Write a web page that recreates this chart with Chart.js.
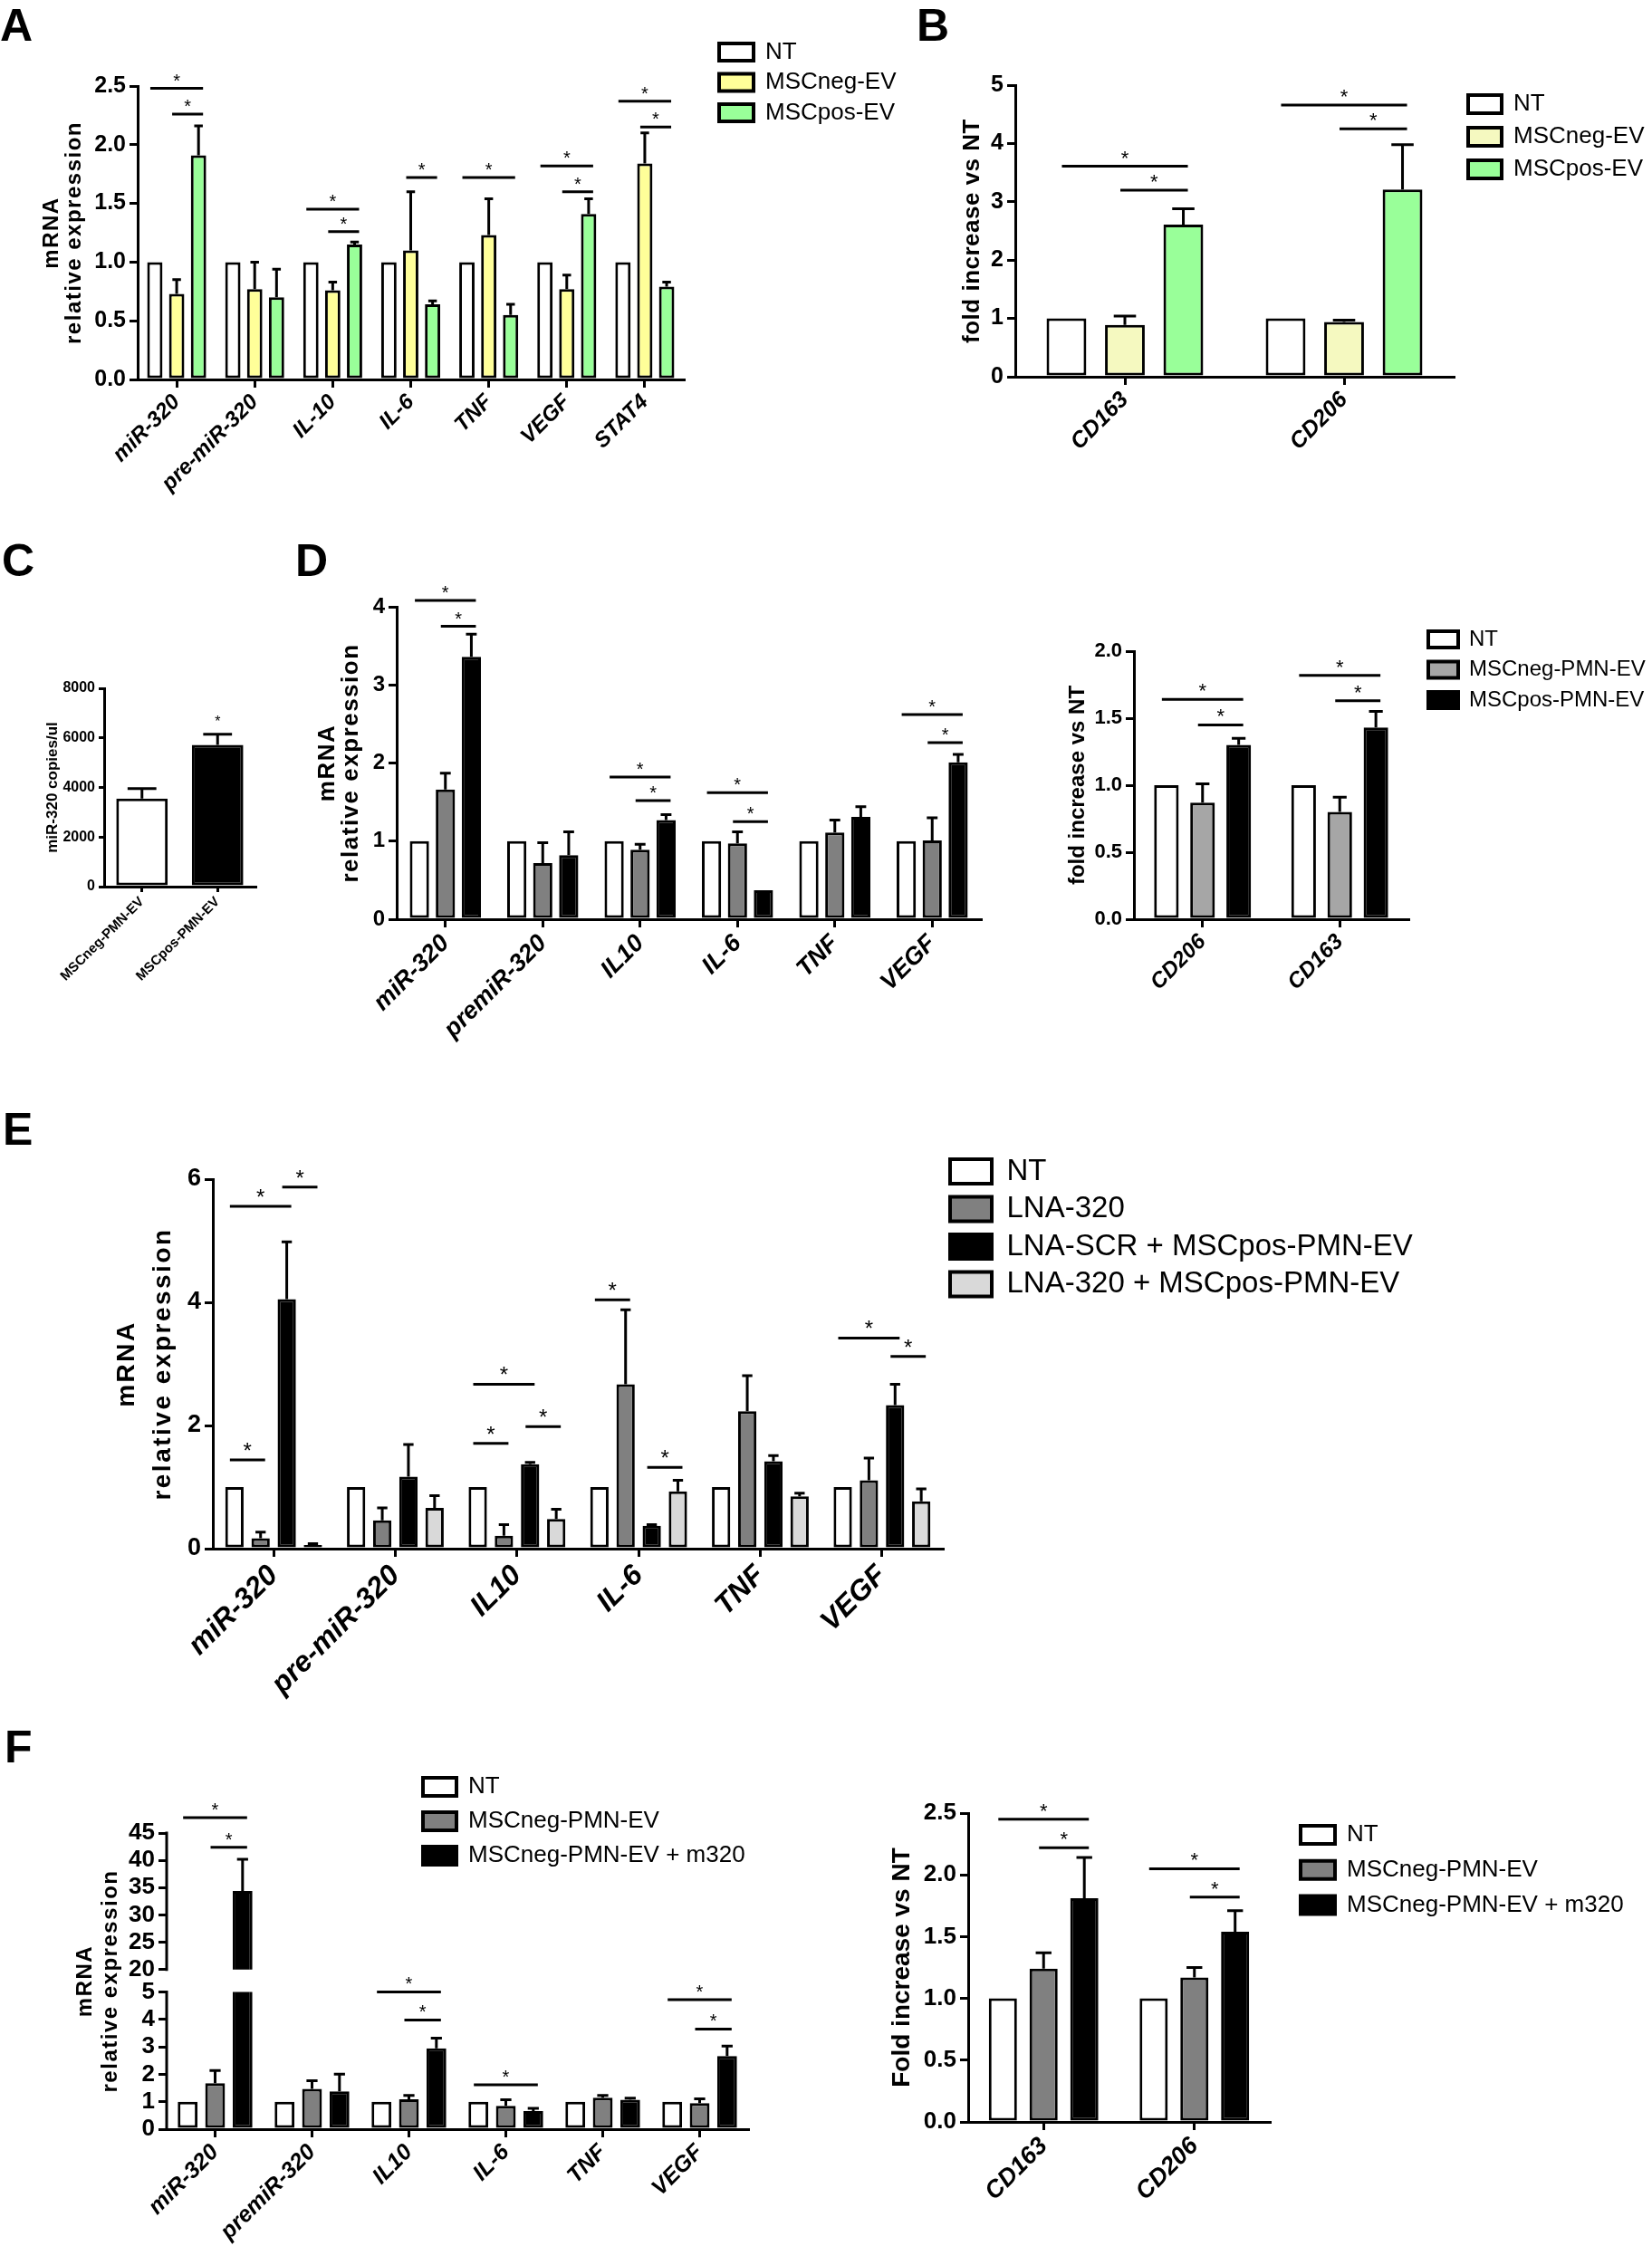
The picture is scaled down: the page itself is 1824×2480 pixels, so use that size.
<!DOCTYPE html>
<html>
<head>
<meta charset="utf-8">
<script src="https://cdn.jsdelivr.net/npm/chart.js@4.4.1/dist/chart.umd.min.js"></script>
<style>
  body { margin: 0; background: #fff; }
  #fig { position: relative; width: 1824px; height: 2480px; background: #fff; overflow: hidden; }
  #fig canvas { position: absolute; }
  .painel { position: absolute; font: bold 50px "Liberation Sans", Arial, sans-serif; line-height: 1; color: #000; }
</style>
</head>
<body>
<div id="fig">
  <div class="painel" style="left:0px;top:3px">A</div>
  <div class="painel" style="left:1012px;top:3px">B</div>
  <div class="painel" style="left:2px;top:594px">C</div>
  <div class="painel" style="left:326px;top:594px">D</div>
  <div class="painel" style="left:3px;top:1222px">E</div>
  <div class="painel" style="left:5px;top:1904px">F</div>
</div>
<script>
const FONTE = '"Liberation Sans", Arial, Helvetica, sans-serif';

// ---- A ----
const genesA = ["miR-320", "pre-miR-320", "IL-10", "IL-6", "TNF", "VEGF", "STAT4"];
const ntA = [1, 1, 1, 1, 1, 1, 1];
const negA = [0.73, 0.77, 0.76, 1.10, 1.23, 0.77, 1.84];
const negA_sd = [0.12, 0.23, 0.07, 0.50, 0.31, 0.12, 0.26];
const posA = [1.91, 0.70, 1.15, 0.64, 0.55, 1.41, 0.79];
const posA_sd = [0.25, 0.24, 0.02, 0.03, 0.09, 0.13, 0.04];
const ticksA = [0, 0.5, 1, 1.5, 2, 2.5];
const sigA = [[0, 0, 2, 2.48], [0, 1, 2, 2.26], [2, 0, 2, 1.45], [2, 1, 2, 1.26], [3, 1, 2, 1.72],
  [4, 0, 2, 1.72], [5, 0, 2, 1.82], [5, 1, 2, 1.60], [6, 0, 2, 2.37], [6, 1, 2, 2.15]];

// ---- B ----
const genesB = ["CD163", "CD206"];
const ntB = [1, 1];
const negB = [0.89, 0.94];
const negB_sd = [0.15, 0.03];
const posB = [2.61, 3.21];
const posB_sd = [0.27, 0.77];
const ticksB = [0, 1, 2, 3, 4, 5];
const sigB = [[0, 0, 2, 3.61], [0, 1, 2, 3.20], [1, 0, 2, 4.66], [1, 1, 2, 4.25]];

// ---- C ----
const gruposC = ["MSCneg-PMN-EV", "MSCpos-PMN-EV"];
const copiasC = [3550, 5720];
const copiasC_sd = [400, 430];
const ticksC = [0, 2000, 4000, 6000, 8000];
const estrelasC = [[1, 0, 6450]];

// ---- D (esquerda) ----
const genesD = ["miR-320", "premiR-320", "IL10", "IL-6", "TNF", "VEGF"];
const ntD = [1, 1, 1, 1, 1, 1];
const negD = [1.66, 0.72, 0.89, 0.97, 1.11, 1.01];
const negD_sd = [0.21, 0.26, 0.07, 0.15, 0.16, 0.29];
const posD = [3.36, 0.82, 1.27, 0.37, 1.31, 2.01];
const posD_sd = [0.29, 0.30, 0.07, 0, 0.13, 0.10];
const ticksD = [0, 1, 2, 3, 4];
const sigD = [[0, 0, 2, 4.08], [0, 1, 2, 3.75], [2, 0, 2, 1.82], [2, 1, 2, 1.52], [3, 0, 2, 1.62],
  [3, 1, 2, 1.25], [5, 0, 2, 2.62], [5, 1, 2, 2.26]];

// ---- D (direita) ----
const genesD2 = ["CD206", "CD163"];
const ntD2 = [1, 1];
const negD2 = [0.87, 0.80];
const negD2_sd = [0.14, 0.11];
const posD2 = [1.30, 1.43];
const posD2_sd = [0.05, 0.12];
const ticksD2 = [0, 0.5, 1, 1.5, 2];
const sigD2 = [[0, 0, 2, 1.64], [0, 1, 2, 1.45], [1, 0, 2, 1.82], [1, 1, 2, 1.63]];

// ---- E ----
const genesE = ["miR-320", "pre-miR-320", "IL10", "IL-6", "TNF", "VEGF"];
const ntE = [1, 1, 1, 1, 1, 1];
const lnaE = [0.17, 0.46, 0.21, 2.67, 2.23, 1.11];
const lnaE_sd = [0.10, 0.20, 0.18, 1.21, 0.58, 0.36];
const scrE = [4.05, 1.17, 1.37, 0.37, 1.42, 2.33];
const scrE_sd = [0.93, 0.52, 0.03, 0.02, 0.09, 0.34];
const lnaPosE = [0.06, 0.66, 0.48, 0.93, 0.85, 0.77];
const lnaPosE_sd = [0.02, 0.20, 0.16, 0.18, 0.05, 0.20];
const ticksE = [0, 2, 4, 6];
const sigE = [[0, 0, 1, 1.44], [0, 0, 2, 5.56], [0, 2, 3, 5.87], [2, 0, 1, 1.71], [2, 0, 2, 2.67],
  [2, 2, 3, 1.98], [3, 0, 1, 4.04], [3, 2, 3, 1.32], [5, 0, 2, 3.42], [5, 2, 3, 3.12]];

// ---- F (esquerda, eixo quebrado) ----
const genesF = ["miR-320", "premiR-320", "IL10", "IL-6", "TNF", "VEGF"];
const ntF = [1, 1, 1, 1, 1, 1];
const negF = [1.68, 1.47, 1.09, 0.85, 1.15, 0.95];
const negF_sd = [0.46, 0.30, 0.14, 0.22, 0.08, 0.16];
const m320F = [34.4, 1.38, 2.95, 0.66, 1.07, 2.67];
const m320F_sd = [5.8, 0.63, 0.37, 0.10, 0.06, 0.36];
const ticksF = [0, 1, 2, 3, 4, 5, 20, 25, 30, 35, 40, 45];
const quebraF = [5, 20];
const sigF = [[0, 0, 2, 47.8], [0, 1, 2, 42.4], [2, 0, 2, 5.06], [2, 1, 2, 3.98], [3, 0, 2, 1.62],
  [5, 0, 2, 4.72], [5, 1, 2, 3.65]];

// ---- F (direita) ----
const genesF2 = ["CD163", "CD206"];
const ntF2 = [1, 1];
const negF2 = [1.24, 1.17];
const negF2_sd = [0.13, 0.08];
const m320F2 = [1.81, 1.54];
const m320F2_sd = [0.33, 0.17];
const ticksF2 = [0, 0.5, 1, 1.5, 2, 2.5];
const sigF2 = [[0, 0, 2, 2.45], [0, 1, 2, 2.22], [1, 0, 2, 2.05], [1, 1, 2, 1.82]];

Chart.defaults.font.family = FONTE;
Chart.defaults.color = "#000";

// escala linear com trecho omitido (painel F)
const fracBaixo = 0.463, fracVao = 0.076;
class EscalaQuebrada extends Chart.LinearScale {
  getPixelForValue(v) {
    if (v === null || v === undefined) return NaN;
    const [lo, hi] = quebraF;
    let d;
    if (v <= lo) d = (v / lo) * fracBaixo;
    else if (v >= hi) d = fracBaixo + fracVao + ((v - hi) / (this.max - hi)) * (1 - fracBaixo - fracVao);
    else d = fracBaixo + ((v - lo) / (hi - lo)) * fracVao;
    return this.getPixelForDecimal(d);
  }
}
EscalaQuebrada.id = "quebrada";
EscalaQuebrada.defaults = Chart.LinearScale.defaults;
Chart.register(EscalaQuebrada);

const umDecimal = (v) => v.toFixed(1);
const inteiro = (v) => String(v);

const barrasErro = {
  id: "barrasErro",
  afterDatasetsDraw(chart) {
    const ctx = chart.ctx;
    ctx.save();
    ctx.strokeStyle = "#000";
    ctx.lineWidth = 3;
    chart.data.datasets.forEach((ds, i) => {
      if (!ds.sd) return;
      const meta = chart.getDatasetMeta(i);
      const y = chart.scales[meta.yAxisID];
      meta.data.forEach((bar, k) => {
        const e = ds.sd[k];
        if (!e) return;
        const topo = y.getPixelForValue(ds.data[k] + e);
        const meia = bar.width * 0.28;
        ctx.beginPath();
        ctx.moveTo(bar.x, bar.y);
        ctx.lineTo(bar.x, topo);
        ctx.moveTo(bar.x - meia, topo);
        ctx.lineTo(bar.x + meia, topo);
        ctx.stroke();
      });
    });
    ctx.restore();
  }
};

function marcas(sig, estrelas, fs) {
  return {
    id: "marcas",
    afterDatasetsDraw(chart) {
      const ctx = chart.ctx;
      const y = chart.scales.y;
      ctx.save();
      ctx.strokeStyle = "#000";
      ctx.fillStyle = "#000";
      ctx.lineWidth = 3;
      ctx.font = fs + "px " + FONTE;
      ctx.textAlign = "center";
      ctx.textBaseline = "alphabetic";
      sig.forEach(([c, a, b, v]) => {
        const x1 = chart.getDatasetMeta(a).data[c].x - 5;
        const x2 = chart.getDatasetMeta(b).data[c].x + 5;
        const py = y.getPixelForValue(v);
        ctx.beginPath();
        ctx.moveTo(x1, py);
        ctx.lineTo(x2, py);
        ctx.stroke();
        ctx.fillText("*", (x1 + x2) / 2, py - 2);
      });
      estrelas.forEach(([c, d, v]) => {
        const bar = chart.getDatasetMeta(d).data[c];
        ctx.fillText("*", bar.x, y.getPixelForValue(v));
      });
      ctx.restore();
    }
  };
}

function eixoQuebrado(lo, hi) {
  return {
    id: "eixoQuebrado",
    beforeDatasetsDraw(chart) {
      const { ctx, scales: { y } } = chart;
      ctx.save();
      ctx.beginPath();
      ctx.rect(0, 0, chart.width, y.getPixelForValue(hi));
      ctx.rect(0, y.getPixelForValue(lo), chart.width, chart.height);
      ctx.clip();
    },
    afterDatasetsDraw(chart) {
      const { ctx, chartArea: a, scales: { y } } = chart;
      ctx.restore();
      ctx.save();
      ctx.strokeStyle = "#000";
      ctx.lineWidth = 3;
      ctx.beginPath();
      ctx.moveTo(a.left, y.getPixelForValue(y.max) - 1.5);
      ctx.lineTo(a.left, y.getPixelForValue(hi) + 1.5);
      ctx.moveTo(a.left, y.getPixelForValue(lo) - 1.5);
      ctx.lineTo(a.left, y.getPixelForValue(0) + 1.5);
      ctx.stroke();
      ctx.restore();
    }
  };
}

// coloca a legenda num ponto fixo e abre a area de recorte dela
function posLegenda(x, y, pad) {
  return {
    id: "posLegenda",
    afterLayout(chart) {
      const lg = chart.legend;
      lg.left = x - pad;
      lg.top = y - pad;
      lg.right = chart.width;
      lg.bottom = chart.height;
      lg.width = lg.right - lg.left;
      lg.height = lg.bottom - lg.top;
    }
  };
}

function espacarTitulo(esp) {
  return {
    id: "espacarTitulo",
    afterLayout(chart) {
      const s = chart.scales.y;
      if (!esp || s._espacado) return;
      const orig = s.drawTitle;
      s.drawTitle = function () {
        this.ctx.save();
        this.ctx.letterSpacing = esp + "px";
        orig.call(this);
        this.ctx.restore();
      };
      s._espacado = true;
    }
  };
}

function grafico(o) {
  const cv = document.createElement("canvas");
  cv.width = o.caixa.w;
  cv.height = o.caixa.h;
  cv.style.left = o.caixa.x + "px";
  cv.style.top = o.caixa.y + "px";
  document.getElementById("fig").appendChild(cv);

  const larguraY = o.area.l - o.caixa.x;
  const alturaX = o.caixa.y + o.caixa.h - o.area.b;
  const t = o.titulo;
  const padTitulo = t.x - o.caixa.x - (t.size * t.lh) / 2;
  const tick = o.tickLen || 9;

  const plugins = [];
  if (o.quebra) plugins.push(eixoQuebrado(o.quebra[0], o.quebra[1]));
  plugins.push(barrasErro, marcas(o.sig || [], o.estrelas || [], o.tamEstrela), espacarTitulo(t.esp || 0));

  let legenda = { display: false };
  if (o.legenda) {
    const L = o.legenda;
    const pad = L.gap - Math.max(L.size, L.bh);
    legenda = {
      display: true,
      position: "chartArea",
      align: "start",
      labels: {
        color: "#000",
        font: { family: FONTE, size: L.size },
        boxWidth: L.bw,
        boxHeight: L.bh,
        padding: pad,
        generateLabels: (chart) =>
          Chart.defaults.plugins.legend.labels.generateLabels(chart).map((i) => Object.assign(i, { lineWidth: 4 }))
      }
    };
    plugins.push(posLegenda(L.x - o.caixa.x, L.y - o.caixa.y - Math.max((L.size - L.bh) / 2, 0), pad));
  }

  new Chart(cv, {
    type: "bar",
    data: {
      labels: o.rotulos,
      datasets: o.series.map((s) => ({
        label: s.nome,
        data: s.valores,
        sd: s.sd,
        backgroundColor: s.cor,
        borderColor: "#000",
        borderWidth: 3,
        borderSkipped: false,
        categoryPercentage: o.catPct,
        barPercentage: o.barPct
      }))
    },
    options: {
      responsive: false,
      animation: false,
      events: [],
      layout: { padding: { left: 0, top: o.area.t - o.caixa.y, right: o.caixa.x + o.caixa.w - o.area.r, bottom: 0 } },
      plugins: { legend: legenda, tooltip: { enabled: false } },
      scales: {
        x: {
          type: "category",
          offset: true,
          grid: { display: true, drawOnChartArea: false, drawTicks: true, tickLength: tick, offset: false, color: "#000", lineWidth: 3 },
          border: { display: true, color: "#000", width: 3 },
          ticks: {
            color: "#000",
            font: { family: FONTE, size: o.xSize, weight: "bold", style: o.xItalico === false ? "normal" : "italic" },
            minRotation: 45,
            maxRotation: 45,
            autoSkip: false,
            padding: 2
          },
          afterFit: (s) => { s.height = alturaX; }
        },
        y: {
          type: o.quebra ? "quebrada" : "linear",
          min: o.yTicks[0],
          max: o.yTicks[o.yTicks.length - 1],
          afterBuildTicks: (s) => { s.ticks = o.yTicks.map((v) => ({ value: v })); },
          grid: { display: true, drawOnChartArea: false, drawTicks: true, tickLength: tick, color: "#000", lineWidth: 3 },
          border: { display: !o.quebra, color: "#000", width: 3 },
          ticks: {
            color: "#000",
            font: { family: FONTE, size: o.ySize, weight: "bold" },
            padding: 4,
            autoSkip: false,
            callback: o.formato
          },
          title: {
            display: true,
            text: t.texto,
            color: "#000",
            font: { family: FONTE, size: t.size, weight: "bold", lineHeight: t.lh },
            padding: { top: padTitulo, bottom: 0 }
          },
          afterFit: (s) => { s.width = larguraY; }
        }
      }
    },
    plugins: plugins
  });
}

const tituloMRNA = ["mRNA", "relative expression"];

grafico({
  caixa: { x: 0, y: 40, w: 1010, h: 560 }, area: { l: 152, t: 95, r: 755, b: 419 },
  rotulos: genesA,
  series: [
    { nome: "NT", valores: ntA, cor: "#ffffff" },
    { nome: "MSCneg-EV", valores: negA, sd: negA_sd, cor: "#ffff99" },
    { nome: "MSCpos-EV", valores: posA, sd: posA_sd, cor: "#99ff99" }
  ],
  catPct: 0.84, barPct: 0.7,
  yTicks: ticksA, formato: umDecimal, ySize: 25, xSize: 24,
  titulo: { texto: tituloMRNA, x: 57, size: 24, lh: 1.05, esp: 1.5 },
  legenda: { x: 794, y: 48, bw: 38, bh: 19, size: 26, gap: 33.5 },
  sig: sigA, tamEstrela: 20
});

grafico({
  caixa: { x: 1010, y: 40, w: 814, h: 560 }, area: { l: 1121, t: 94, r: 1605, b: 416 },
  rotulos: genesB,
  series: [
    { nome: "NT", valores: ntB, cor: "#ffffff" },
    { nome: "MSCneg-EV", valores: negB, sd: negB_sd, cor: "#f5f9c0" },
    { nome: "MSCpos-EV", valores: posB, sd: posB_sd, cor: "#99ff99" }
  ],
  catPct: 0.8, barPct: 0.68,
  yTicks: ticksB, formato: inteiro, ySize: 25, xSize: 25,
  titulo: { texto: "fold increase vs NT", x: 1074, size: 26, lh: 1.2, esp: 0.5 },
  legenda: { x: 1621, y: 105, bw: 37, bh: 20, size: 26, gap: 36 },
  sig: sigB, tamEstrela: 22
});

grafico({
  caixa: { x: 0, y: 650, w: 330, h: 470 }, area: { l: 115, t: 760, r: 282, b: 979 },
  rotulos: gruposC,
  series: [{ nome: "miR-320", valores: copiasC, sd: copiasC_sd, cor: ["#ffffff", "#000000"] }],
  catPct: 1, barPct: 0.68, tickLen: 6,
  yTicks: ticksC, formato: inteiro, ySize: 16, xSize: 15, xItalico: false,
  titulo: { texto: "miR-320 copies/ul", x: 58, size: 17, lh: 1.2 },
  estrelas: estrelasC, tamEstrela: 16
});

grafico({
  caixa: { x: 330, y: 640, w: 780, h: 520 }, area: { l: 438, t: 670, r: 1083, b: 1015 },
  rotulos: genesD,
  series: [
    { nome: "NT", valores: ntD, cor: "#ffffff" },
    { nome: "MSCneg-PMN-EV", valores: negD, sd: negD_sd, cor: "#808080" },
    { nome: "MSCpos-PMN-EV", valores: posD, sd: posD_sd, cor: "#000000" }
  ],
  catPct: 0.8, barPct: 0.74,
  yTicks: ticksD, formato: inteiro, ySize: 24, xSize: 27,
  titulo: { texto: tituloMRNA, x: 362, size: 26, lh: 1.0, esp: 1.5 },
  sig: sigD, tamEstrela: 20
});

grafico({
  caixa: { x: 1100, y: 660, w: 724, h: 480 }, area: { l: 1252, t: 719, r: 1555, b: 1015 },
  rotulos: genesD2,
  series: [
    { nome: "NT", valores: ntD2, cor: "#ffffff" },
    { nome: "MSCneg-PMN-EV", valores: negD2, sd: negD2_sd, cor: "#a6a6a6" },
    { nome: "MSCpos-PMN-EV", valores: posD2, sd: posD2_sd, cor: "#000000" }
  ],
  catPct: 0.79, barPct: 0.68,
  yTicks: ticksD2, formato: umDecimal, ySize: 22, xSize: 24,
  titulo: { texto: "fold increase vs NT", x: 1190, size: 24, lh: 1.2 },
  legenda: { x: 1577, y: 697, bw: 33, bh: 18, size: 24, gap: 33.5 },
  sig: sigD2, tamEstrela: 22
});

grafico({
  caixa: { x: 0, y: 1250, w: 1600, h: 680 }, area: { l: 235, t: 1302, r: 1041, b: 1710 },
  rotulos: genesE,
  series: [
    { nome: "NT", valores: ntE, cor: "#ffffff" },
    { nome: "LNA-320", valores: lnaE, sd: lnaE_sd, cor: "#808080" },
    { nome: "LNA-SCR + MSCpos-PMN-EV", valores: scrE, sd: scrE_sd, cor: "#000000" },
    { nome: "LNA-320 + MSCpos-PMN-EV", valores: lnaPosE, sd: lnaPosE_sd, cor: "#d9d9d9" }
  ],
  catPct: 0.86, barPct: 0.7,
  yTicks: ticksE, formato: inteiro, ySize: 27, xSize: 32,
  titulo: { texto: tituloMRNA, x: 140, size: 28, lh: 1.43, esp: 2.5 },
  legenda: { x: 1049, y: 1280, bw: 46, bh: 27, size: 33, gap: 41.5 },
  sig: sigE, tamEstrela: 24
});

grafico({
  caixa: { x: 0, y: 1940, w: 900, h: 540 }, area: { l: 184, t: 2024, r: 826, b: 2351 },
  rotulos: genesF,
  series: [
    { nome: "NT", valores: ntF, cor: "#ffffff" },
    { nome: "MSCneg-PMN-EV", valores: negF, sd: negF_sd, cor: "#808080" },
    { nome: "MSCneg-PMN-EV + m320", valores: m320F, sd: m320F_sd, cor: "#000000" }
  ],
  catPct: 0.85, barPct: 0.72,
  yTicks: ticksF, quebra: quebraF, formato: inteiro, ySize: 26, xSize: 25,
  titulo: { texto: tituloMRNA, x: 94, size: 24, lh: 1.17, esp: 1.5 },
  legenda: { x: 467, y: 1963, bw: 37, bh: 20, size: 26, gap: 38 },
  sig: sigF, tamEstrela: 20
});

grafico({
  caixa: { x: 920, y: 1960, w: 904, h: 520 }, area: { l: 1069, t: 2002, r: 1402, b: 2343 },
  rotulos: genesF2,
  series: [
    { nome: "NT", valores: ntF2, cor: "#ffffff" },
    { nome: "MSCneg-PMN-EV", valores: negF2, sd: negF2_sd, cor: "#808080" },
    { nome: "MSCneg-PMN-EV + m320", valores: m320F2, sd: m320F2_sd, cor: "#000000" }
  ],
  catPct: 0.81, barPct: 0.69,
  yTicks: ticksF2, formato: umDecimal, ySize: 26, xSize: 27,
  titulo: { texto: "Fold increase vs NT", x: 996, size: 28, lh: 1.2 },
  legenda: { x: 1436, y: 2016, bw: 38, bh: 20, size: 26, gap: 38.7 },
  sig: sigF2, tamEstrela: 22
});
</script>
</body>
</html>
